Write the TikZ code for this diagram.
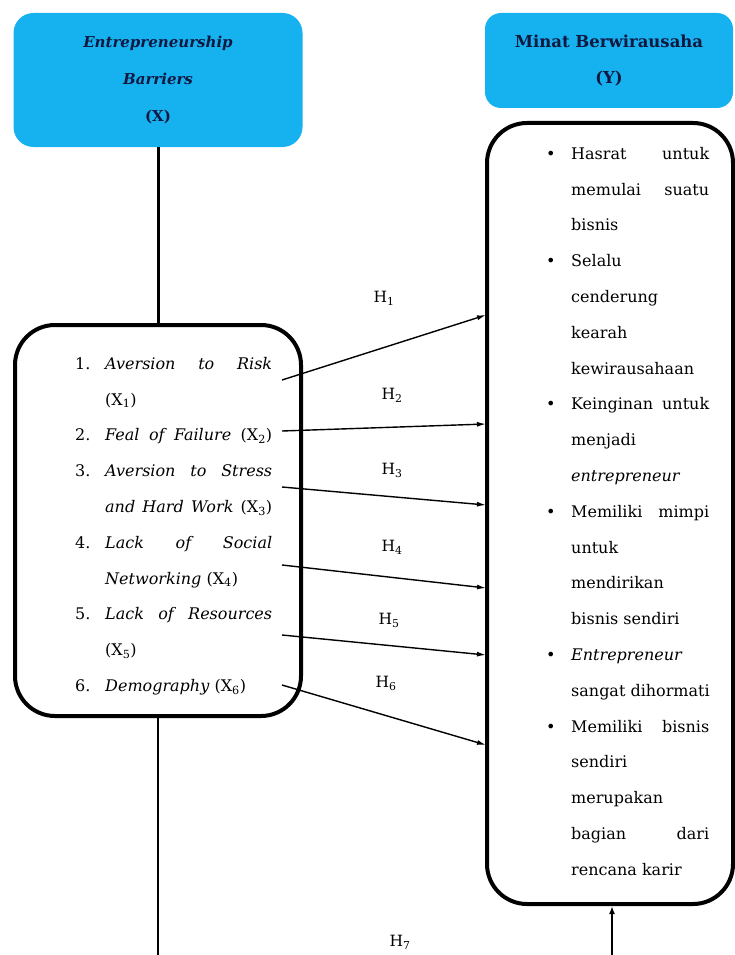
\documentclass[tikz,border=0pt]{standalone}
\usepackage{fontspec}
\setmainfont{DejaVu Serif}
\usetikzlibrary{arrows.meta}

\definecolor{hdrblue}{RGB}{22,178,240}
\definecolor{hdrtext}{RGB}{16,24,64}

% list helpers
\newcommand{\nr}[1]{\makebox[30pt][l]{#1}}
\newcommand{\bl}[1]{\makebox[25pt][l]{#1}}
\newcommand{\sx}[1]{\makebox[167pt][s]{#1}}
\newcommand{\sy}[1]{\makebox[138pt][s]{#1}}
\newcommand{\xsub}[1]{(X\textsubscript{#1})}

\tikzset{
  header/.style={fill=hdrblue, text=hdrtext, align=center,
    font=\fontsize{15}{37}\selectfont\bfseries},
  listbox/.style={draw, line width=4pt, rounded corners=40pt},
  listtext/.style={align=left, inner sep=0pt,
    font=\fontsize{16}{35.8}\selectfont},
  hyp/.style={-{Latex[length=9pt,width=5pt]}, line width=1.4pt},
  hlabel/.style={font=\fontsize{15.5}{18}\selectfont}
}

\begin{document}
\begin{tikzpicture}[x=1pt,y=-1pt]
      \useasboundingbox (0,0) rectangle (735,955);

      % Headers for X and Y
      \node[header, rounded corners=20pt, minimum width=289pt, minimum height=134pt]
        (xhead) at (158,80) {\textit{Entrepreneurship}\\ \textit{Barriers}\\ (X)};
      \node[header, rounded corners=16pt, minimum width=248pt, minimum height=95pt,
        font=\fontsize{16.5}{36}\selectfont\bfseries]
        (yhead) at (609,60.5) {Minat Berwirausaha\\ (Y)};

      % Rounded boxes holding the lists
      \node[listbox, minimum width=286pt, minimum height=391pt] (xbox) at (158,520.5) {};
      \node[listbox, minimum width=246pt, minimum height=781pt] (ybox) at (610,513.5) {};

      \node[listtext, anchor=north west] (xlist) at (75,357) {%
        \nr{1.}\sx{\textit{Aversion to Risk}}\\
        \nr{}\xsub{1}\\
        \nr{2.}\sx{\textit{Feal of Failure} \xsub{2}}\\
        \nr{3.}\sx{\textit{Aversion to Stress}}\\
        \nr{}\sx{\textit{and Hard Work} \xsub{3}}\\
        \nr{4.}\sx{\textit{Lack of Social}}\\
        \nr{}\textit{Networking} \xsub{4}\\
        \nr{5.}\sx{\textit{Lack of Resources}}\\
        \nr{}\xsub{5}\\
        \nr{6.}\textit{Demography} \xsub{6}};

      \node[listtext, anchor=north west] (ylist) at (546,147) {%
        \bl{\textbullet}\sy{Hasrat untuk}\\
        \bl{}\sy{memulai suatu}\\
        \bl{}bisnis\\
        \bl{\textbullet}Selalu\\
        \bl{}cenderung\\
        \bl{}kearah\\
        \bl{}kewirausahaan\\
        \bl{\textbullet}\sy{Keinginan untuk}\\
        \bl{}menjadi\\
        \bl{}\textit{entrepreneur}\\
        \bl{\textbullet}\sy{Memiliki mimpi}\\
        \bl{}untuk\\
        \bl{}mendirikan\\
        \bl{}bisnis sendiri\\
        \bl{\textbullet}\textit{Entrepreneur}\\
        \bl{}sangat dihormati\\
        \bl{\textbullet}\sy{Memiliki bisnis}\\
        \bl{}sendiri\\
        \bl{}merupakan\\
        \bl{}\sy{bagian dari}\\
        \bl{}rencana karir};

      % X header down to the list box
      \draw[line width=3pt] (xhead.south) -- (xbox.north);

      % Hypotheses H1 to H6
      \coordinate (h1s) at (282,380); \coordinate (h1e) at (486,315);
      \coordinate (h2s) at (282,431); \coordinate (h2e) at (486,424);
      \coordinate (h3s) at (282,487); \coordinate (h3e) at (486,505);
      \coordinate (h4s) at (282,565); \coordinate (h4e) at (486,588);
      \coordinate (h5s) at (282,635); \coordinate (h5e) at (486,655);
      \coordinate (h6s) at (282,685); \coordinate (h6e) at (486,745);
      \draw[hyp] (h1s) -- (h1e);
      \draw[hyp] (h2s) -- (h2e);
      \draw[hyp] (h3s) -- (h3e);
      \draw[hyp] (h4s) -- (h4e);
      \draw[hyp] (h5s) -- (h5e);
      \draw[hyp] (h6s) -- (h6e);
      \node[hlabel] (h1) at (384,298) {H\textsubscript{1}};
      \node[hlabel] (h2) at (392,395) {H\textsubscript{2}};
      \node[hlabel] (h3) at (392,470) {H\textsubscript{3}};
      \node[hlabel] (h4) at (392,547) {H\textsubscript{4}};
      \node[hlabel] (h5) at (389,620) {H\textsubscript{5}};
      \node[hlabel] (h6) at (386,683) {H\textsubscript{6}};

      % H7 runs below the picture
      \coordinate (xfoot) at (158,955);
      \coordinate (yfoot) at (612,955);
      \draw[line width=2pt] (xbox.south) -- (xfoot);
      \draw[line width=2.5pt, -{Latex[length=8pt,width=6pt]}] (yfoot) -- (yfoot |- ybox.south);
      \node[hlabel] (h7) at (400,942) {H\textsubscript{7}};
\end{tikzpicture}
\end{document}
